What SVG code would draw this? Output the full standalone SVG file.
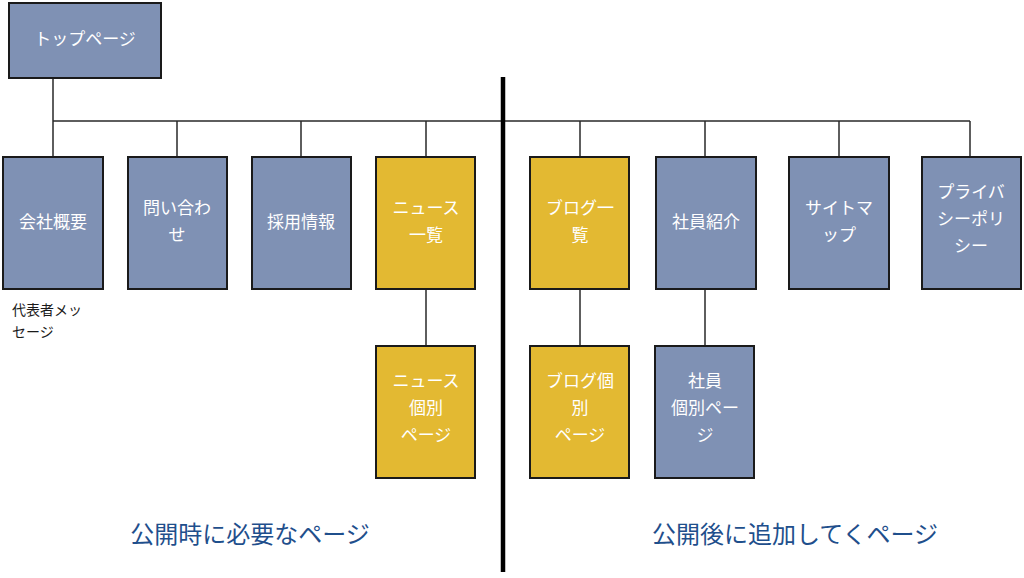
<svg xmlns="http://www.w3.org/2000/svg" width="1024" height="578" viewBox="0 0 1024 578">
<style>
.b{fill:#7f91b4;stroke:#1a1a1a;stroke-width:2}
.y{fill:#e3b932;stroke:#1a1a1a;stroke-width:2}
.t{font-family:"Noto Sans CJK JP","Noto Sans",sans-serif;font-size:17px;fill:#ffffff;text-anchor:middle}
.s{font-family:"Noto Sans CJK JP","Noto Sans",sans-serif;font-size:14px;fill:#1a1a1a}
.l{font-family:"Noto Sans CJK JP","Noto Sans",sans-serif;font-size:24px;fill:#1f4f8c;text-anchor:middle}
.c{stroke:#2a2a2a;stroke-width:1.5;fill:none}
</style>
<rect width="1024" height="578" fill="#ffffff"/>
<g id="connectors">
<path class="c" d="M53,78V157M53,121H970M177,121V157M301,121V157M426,121V157M580,121V157M705,121V157M839,121V157M970,121V157M426,289V346M580,289V346M705,289V346"/>
<line x1="503" y1="77" x2="503" y2="572" stroke="#000" stroke-width="4.5"/>
</g>
<g id="top"><rect class="b" x="9" y="3" width="152" height="75"/><text class="t" x="85" y="45">トップページ</text></g>
<g id="kaisha"><rect class="b" x="3" y="157" width="100" height="132"/><text class="t" x="53" y="228">会社概要</text></g>
<g id="toiawase"><rect class="b" x="128" y="157" width="99" height="132"/><text class="t" x="177" y="214">問い合わ</text><text class="t" x="177" y="241">せ</text></g>
<g id="saiyo"><rect class="b" x="252" y="157" width="99" height="132"/><text class="t" x="301" y="228">採用情報</text></g>
<g id="news"><rect class="y" x="376" y="157" width="99" height="132"/><text class="t" x="426" y="214">ニュース</text><text class="t" x="426" y="241">一覧</text></g>
<g id="blog"><rect class="y" x="530" y="157" width="99" height="132"/><text class="t" x="580" y="214">ブログ一</text><text class="t" x="580" y="241">覧</text></g>
<g id="shain"><rect class="b" x="656" y="157" width="100" height="132"/><text class="t" x="706" y="228">社員紹介</text></g>
<g id="sitemap"><rect class="b" x="789" y="157" width="100" height="132"/><text class="t" x="839" y="214">サイトマ</text><text class="t" x="839" y="241">ップ</text></g>
<g id="privacy"><rect class="b" x="922" y="157" width="99" height="132"/><text class="t" x="971" y="198">プライバ</text><text class="t" x="971" y="225">シーポリ</text><text class="t" x="971" y="252">シー</text></g>
<g id="daihyo"><text class="s" x="12" y="315">代表者メッ</text><text class="s" x="12" y="337">セージ</text></g>
<g id="news-detail"><rect class="y" x="376" y="346" width="99" height="132"/><text class="t" x="426" y="387">ニュース</text><text class="t" x="426" y="414">個別</text><text class="t" x="426" y="441">ページ</text></g>
<g id="blog-detail"><rect class="y" x="530" y="346" width="99" height="132"/><text class="t" x="580" y="387">ブログ個</text><text class="t" x="580" y="414">別</text><text class="t" x="580" y="441">ページ</text></g>
<g id="shain-detail"><rect class="b" x="655" y="346" width="99" height="132"/><text class="t" x="705" y="387">社員</text><text class="t" x="705" y="414">個別ペー</text><text class="t" x="705" y="441">ジ</text></g>
<g id="labels"><text class="l" x="250" y="543">公開時に必要なページ</text><text class="l" x="795" y="543">公開後に追加してくページ</text></g>
</svg>
